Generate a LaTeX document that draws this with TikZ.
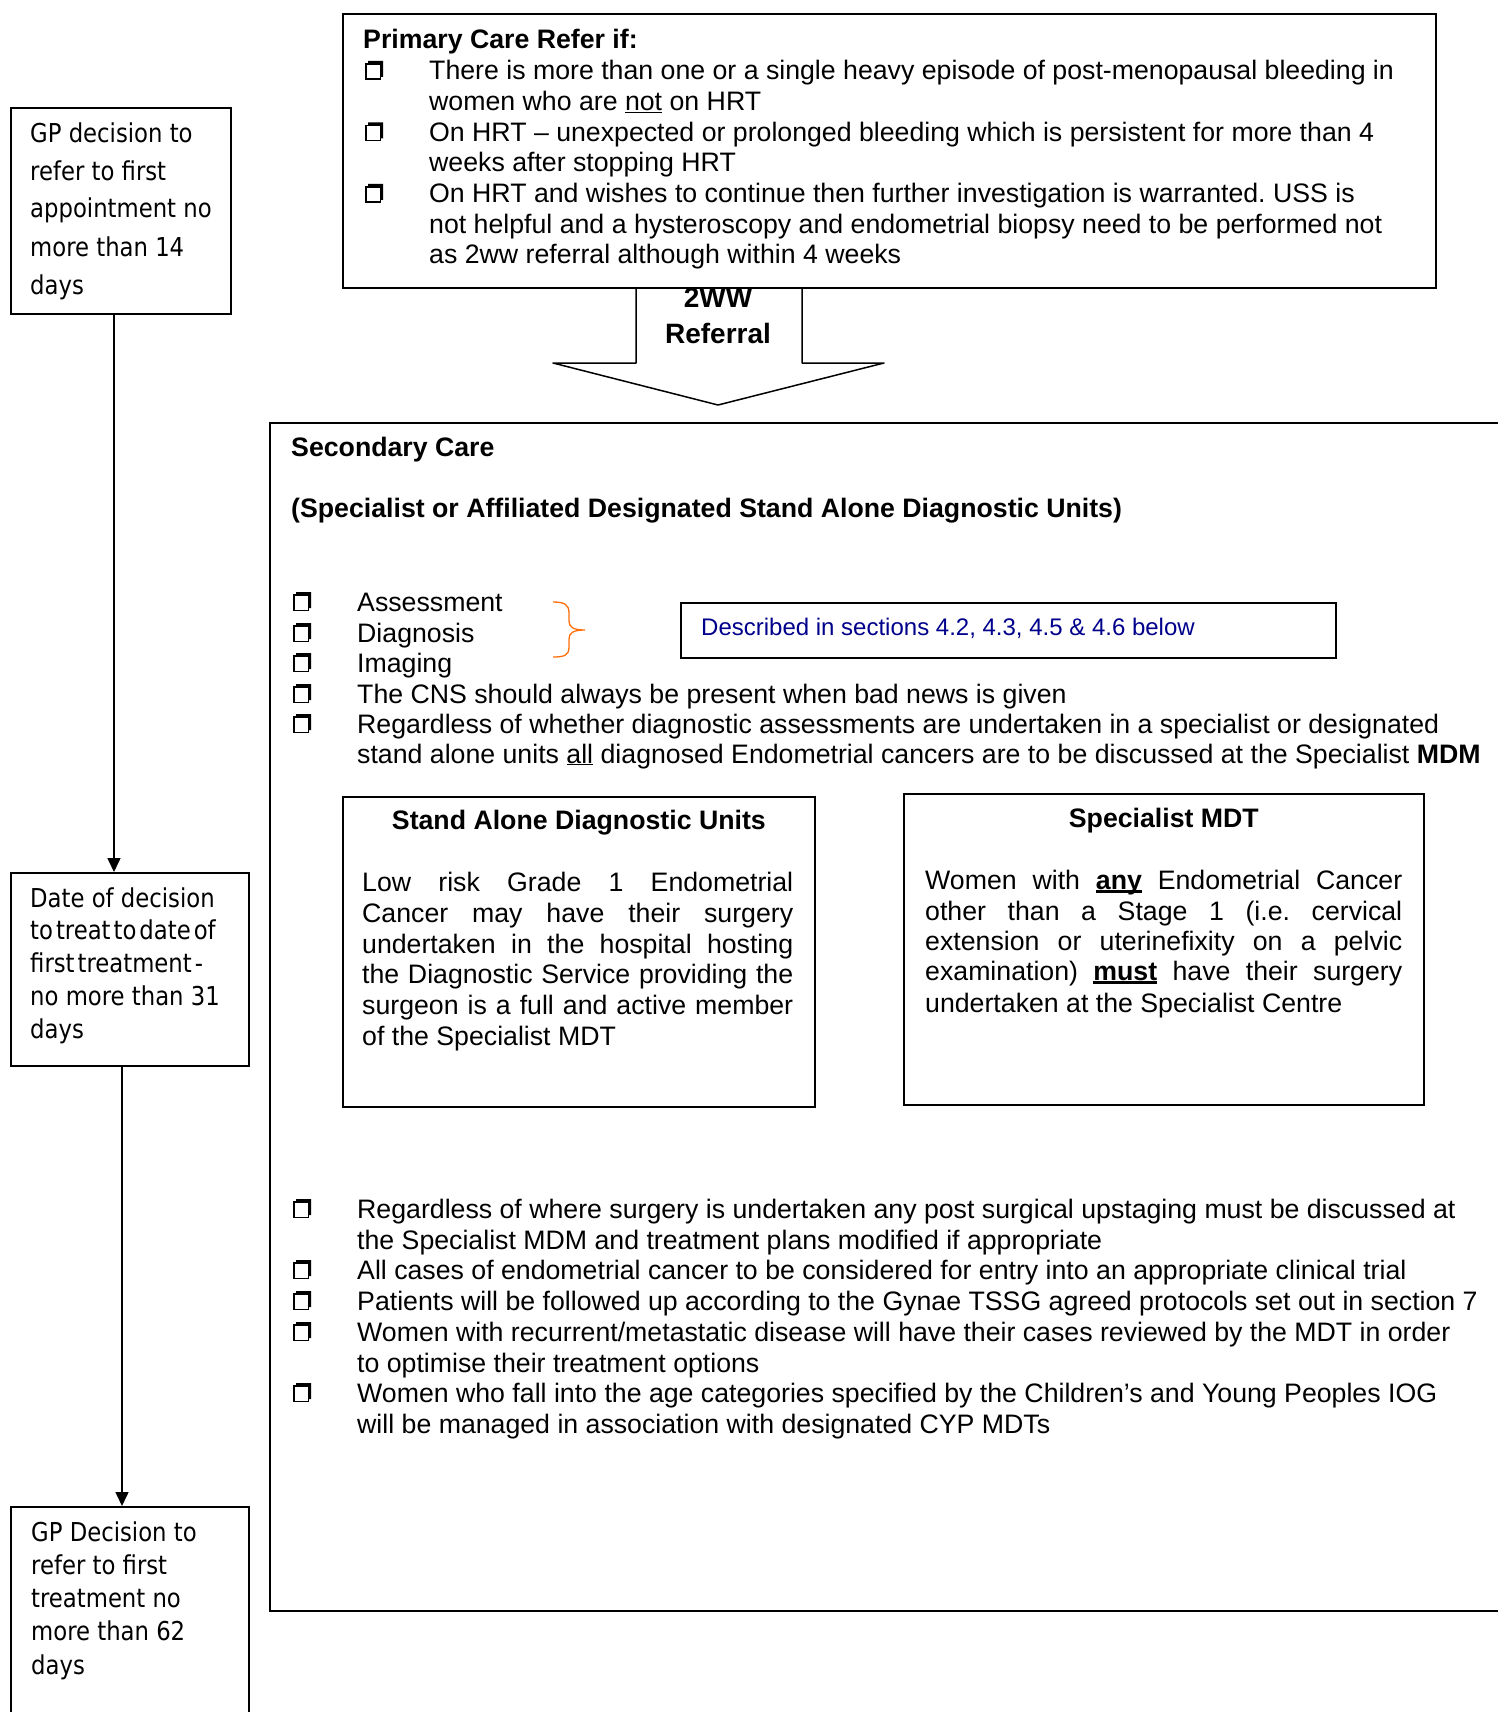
\documentclass[tikz,border=0pt]{standalone}
\usepackage{fontspec}
\setmainfont{Liberation Sans}
\newfontfamily\tah[FakeStretch=0.875]{DejaVu Sans}
\usetikzlibrary{arrows.meta,calc}
\definecolor{navyblue}{RGB}{0,0,140}
\definecolor{braceorange}{RGB}{255,110,10}
\frenchspacing
\newcommand{\thickul}[1]{\setbox0\hbox{#1}\rlap{\raisebox{-4pt}{\rule{\wd0}{2.6pt}}}\box0\relax}
\tikzset{
  box/.style={draw, line width=1.7pt, inner sep=0pt, anchor=north west},
  tx/.style={anchor=base west, inner sep=0pt, font=\fontsize{26.7}{30.7}\selectfont},
  txb/.style={anchor=base west, inner sep=0pt, font=\fontsize{26.7}{30.7}\selectfont\bfseries},
  ttl/.style={anchor=base, inner sep=0pt, font=\fontsize{26.7}{30.7}\selectfont\bfseries},
  lt/.style={anchor=base west, inner sep=0pt, font=\tah\fontsize{26}{30}\selectfont},
  arr/.style={line width=1.5pt, -{Triangle[length=14pt,width=13pt]}},
  chk/.pic={
    \fill (3,-16) -- (3,-19) -- (18,-19) -- (18,-3) -- (15.5,-3) -- (15.5,-16) -- cycle;
    \draw[line width=1.5pt] (0.75,-0.75) rectangle (15.5,-16);
  },
}
\begin{document}
\begin{tikzpicture}[x=1pt,y=-1pt]
\useasboundingbox[fill=white] (0,0) rectangle (1497,1712);

% ---------- left timeline boxes ----------
\node[box, minimum width=220, minimum height=206] (g1) at (10,107) {};
\node[box, minimum width=238, minimum height=193] (g2) at (10,872) {};
\node[box, minimum width=238, minimum height=240] (g3) at (10,1506) {};
\draw[arr] ($(g1.south west)+(104,0)$) -- ($(g2.north west)+(104,0)$);
\draw[arr] ($(g2.south west)+(112,0)$) -- ($(g3.north west)+(112,0)$);

\node[lt] (g1a) at (30,143) {GP decision to};
\node[lt] (g1b) at (30,181) {refer to first};
\node[lt] (g1c) at (30,218) {appointment no};
\node[lt] (g1d) at (30,256) {more than 14};
\node[lt] (g1e) at (30,294) {days};

\node[lt] (g2a) at (30,907) {Date of decision};
\node[lt] (g2b) at (30,939) {\spaceskip=3pt to treat to date of};
\node[lt] (g2c) at (30,972) {\spaceskip=3pt first treatment -};
\node[lt] (g2d) at (30,1005) {no more than 31};
\node[lt] (g2e) at (30,1038) {days};

\node[lt] (g3a) at (31,1541) {GP Decision to};
\node[lt] (g3b) at (31,1574) {refer to first};
\node[lt] (g3c) at (31,1607) {treatment no};
\node[lt] (g3d) at (31,1640) {more than 62};
\node[lt] (g3e) at (31,1674) {days};

% ---------- primary care ----------
\node[box, minimum width=1093, minimum height=274] (pc) at (342,13) {};
\node[txb] (pct) at (363,49) {Primary Care Refer if:};
\pic at (365,80) {chk};
\node[tx] (p1a) at (429,80) {There is more than one or a single heavy episode of post-menopausal bleeding in};
\node[tx] (p1b) at (429,110.7) {women who are \underline{not} on HRT};
\pic at (365,141.4) {chk};
\node[tx] (p2a) at (429,141.4) {On HRT – unexpected or prolonged bleeding which is persistent for more than 4};
\node[tx] (p2b) at (429,172) {weeks after stopping HRT};
\pic at (365,202.8) {chk};
\node[tx] (p3a) at (429,202.8) {On HRT and wishes to continue then further investigation is warranted. USS is};
\node[tx] (p3b) at (429,233.5) {not helpful and a hysteroscopy and endometrial biopsy need to be performed not};
\node[tx] (p3c) at (429,264) {as 2ww referral although within 4 weeks};

% ---------- block arrow ----------
\draw[line width=1.5pt, line join=round] ($(pc.south west)+(294,0)$) coordinate (bl) -- (636,363) -- (553,363) -- (718,405) coordinate (btip) -- (884,363) -- (802,363) -- ($(pc.south west)+(460,0)$) coordinate (br);
\node[anchor=base, inner sep=0pt, font=\fontsize{28}{32}\selectfont\bfseries] (w1) at (718,307) {2WW};
\node[anchor=base, inner sep=0pt, font=\fontsize{28}{32}\selectfont\bfseries] (w2) at (718,343) {Referral};

% ---------- secondary care ----------
\node[box, minimum width=1260, minimum height=1188] (sc) at (269,422) {};
\node[txb] (sct) at (291,456) {Secondary Care};
\node[txb] (scs) at (291,517) {(Specialist or Affiliated Designated Stand Alone Diagnostic Units)};

\pic at (293,611) {chk};
\node[tx] (s1) at (357,611) {Assessment};
\pic at (293,642) {chk};
\node[tx] (s2) at (357,642) {Diagnosis};
\pic at (293,672) {chk};
\node[tx] (s3) at (357,672) {Imaging};
\pic at (293,703) {chk};
\node[tx] (s4) at (357,703) {The CNS should always be present when bad news is given};
\pic at (293,733) {chk};
\node[tx] (s5a) at (357,733) {Regardless of whether diagnostic assessments are undertaken in a specialist or designated};
\node[tx] (s5b) at (357,763) {stand alone units \underline{all} diagnosed Endometrial cancers are to be discussed at the Specialist \textbf{MDM}};

\draw[braceorange, line width=1.3pt] (553,602) .. controls (565,602) and (569,605) .. (569,613) -- (569,621) .. controls (569,627) and (573,630) .. (585,630) .. controls (573,630) and (569,633) .. (569,639) -- (569,647) .. controls (569,655) and (565,657) .. (553,657);

\node[box, minimum width=655, minimum height=55] (ds) at (680,602) {};
\node[anchor=base west, inner sep=0pt, font=\fontsize{24}{28}\selectfont, text=navyblue] (dst) at (701,635) {Described in sections 4.2, 4.3, 4.5 \& 4.6 below};

% ---------- stand alone box ----------
\node[box, minimum width=472, minimum height=310] (sa) at (342,796) {};
\node[ttl] (sat) at ($(sa.north)+(0,33)$) {Stand Alone Diagnostic Units};
\node[tx] (sa1) at (362,891) {\makebox[431pt][s]{Low risk Grade 1 Endometrial}};
\node[tx] (sa2) at (362,922) {\makebox[431pt][s]{Cancer may have their surgery}};
\node[tx] (sa3) at (362,953) {\makebox[431pt][s]{undertaken in the hospital hosting}};
\node[tx] (sa4) at (362,983) {\makebox[431pt][s]{the Diagnostic Service providing the}};
\node[tx] (sa5) at (362,1014) {\makebox[431pt][s]{surgeon is a full and active member}};
\node[tx] (sa6) at (362,1045) {of the Specialist MDT};

% ---------- specialist MDT box ----------
\node[box, minimum width=520, minimum height=311] (sm) at (903,793) {};
\node[ttl] (smt) at ($(sm.north)+(0,34)$) {Specialist MDT};
\node[tx] (sm1) at (925,889) {\makebox[477pt][s]{Women with \thickul{\textbf{any}} Endometrial Cancer}};
\node[tx] (sm2) at (925,920) {\makebox[477pt][s]{other than a Stage 1 (i.e. cervical}};
\node[tx] (sm3) at (925,950) {\makebox[477pt][s]{extension or uterinefixity on a pelvic}};
\node[tx] (sm4) at (925,980) {\makebox[477pt][s]{examination) \thickul{\textbf{must}} have their surgery}};
\node[tx] (sm5) at (925,1012) {undertaken at the Specialist Centre};

% ---------- bottom bullets ----------
\pic at (293,1218) {chk};
\node[tx] (b1a) at (357,1218) {Regardless of where surgery is undertaken any post surgical upstaging must be discussed at};
\node[tx] (b1b) at (357,1249) {the Specialist MDM and treatment plans modified if appropriate};
\pic at (293,1279) {chk};
\node[tx] (b2) at (357,1279) {All cases of endometrial cancer to be considered for entry into an appropriate clinical trial};
\pic at (293,1310) {chk};
\node[tx] (b3) at (357,1310) {Patients will be followed up according to the Gynae TSSG agreed protocols set out in section 7};
\pic at (293,1341) {chk};
\node[tx] (b4a) at (357,1341) {Women with recurrent/metastatic disease will have their cases reviewed by the MDT in order};
\node[tx] (b4b) at (357,1372) {to optimise their treatment options};
\pic at (293,1402) {chk};
\node[tx] (b5a) at (357,1402) {Women who fall into the age categories specified by the Children’s and Young Peoples IOG};
\node[tx] (b5b) at (357,1433) {will be managed in association with designated CYP MDTs};
\end{tikzpicture}
\end{document}
